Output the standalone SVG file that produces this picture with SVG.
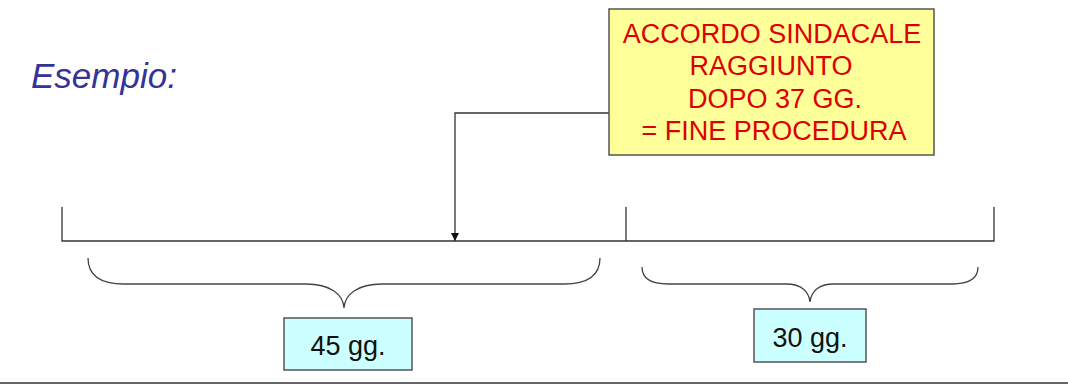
<svg xmlns="http://www.w3.org/2000/svg" width="1068" height="385" viewBox="0 0 1068 385">
  <style>
    .line { fill: none; stroke: #333333; stroke-width: 1.3; }
    .brace { fill: none; stroke: #444444; stroke-width: 1.3; }
    .note { fill: #FFFF99; stroke: #555555; stroke-width: 1.5; }
    .days { fill: #CCFFFF; stroke: #555555; stroke-width: 1.5; }
    .red { font-family: "Liberation Sans", Arial, sans-serif; font-size: 27px; fill: #DD0000; text-anchor: middle; }
    .label { font-family: "Liberation Sans", Arial, sans-serif; font-size: 27px; fill: #111111; text-anchor: middle; }
    .title { font-family: "Liberation Sans", Arial, sans-serif; font-size: 35px; font-style: italic; fill: #333399; }
  </style>
  <defs>
    <marker id="arrow" viewBox="0 0 10 10" refX="10" refY="5" markerWidth="8" markerHeight="8" orient="auto" markerUnits="userSpaceOnUse">
      <path d="M0,0 L10,5 L0,10 z" fill="#111111"/>
    </marker>
  </defs>

  <rect width="1068" height="385" fill="#FFFFFF"/>

  <g id="title">
    <text class="title" x="31" y="88">Esempio:</text>
  </g>

  <g id="timeline">
    <path class="line" d="M62,207 L62,241 L994,241 L994,207"/>
    <path class="line" d="M626,207 L626,241"/>
  </g>

  <g id="connectors">
    <path class="line" d="M609,113 L455,113 L455,241" marker-end="url(#arrow)"/>
  </g>

  <g id="brace-45">
    <path class="brace" d="M88,258 C88,276 100,284 124,284 L306,284 C330,284 343,294 344,308 C345,294 358,284 382,284 L564,284 C588,284 600,276 600,258"/>
  </g>

  <g id="brace-30">
    <path class="brace" d="M642,267 C642,278 650,284 668,284 L786,284 C802,284 809,292 810,302 C811,292 818,284 834,284 L952,284 C970,284 978,278 978,267"/>
  </g>

  <g id="note">
    <rect class="note" x="609" y="9" width="325" height="146"/>
    <text class="red" x="772" y="43">ACCORDO SINDACALE</text>
    <text class="red" x="771" y="75">RAGGIUNTO</text>
    <text class="red" x="775" y="108">DOPO 37 GG.</text>
    <text class="red" x="774" y="140">= FINE PROCEDURA</text>
  </g>

  <g id="days-45">
    <rect class="days" x="284" y="318" width="128" height="52"/>
    <text class="label" x="348" y="355">45 gg.</text>
  </g>

  <g id="days-30">
    <rect class="days" x="754" y="309" width="112" height="53"/>
    <text class="label" x="810" y="347">30 gg.</text>
  </g>

  <g id="footer-rule">
    <line x1="0" y1="383" x2="1068" y2="383" stroke="#333333" stroke-width="1.5"/>
  </g>
</svg>
